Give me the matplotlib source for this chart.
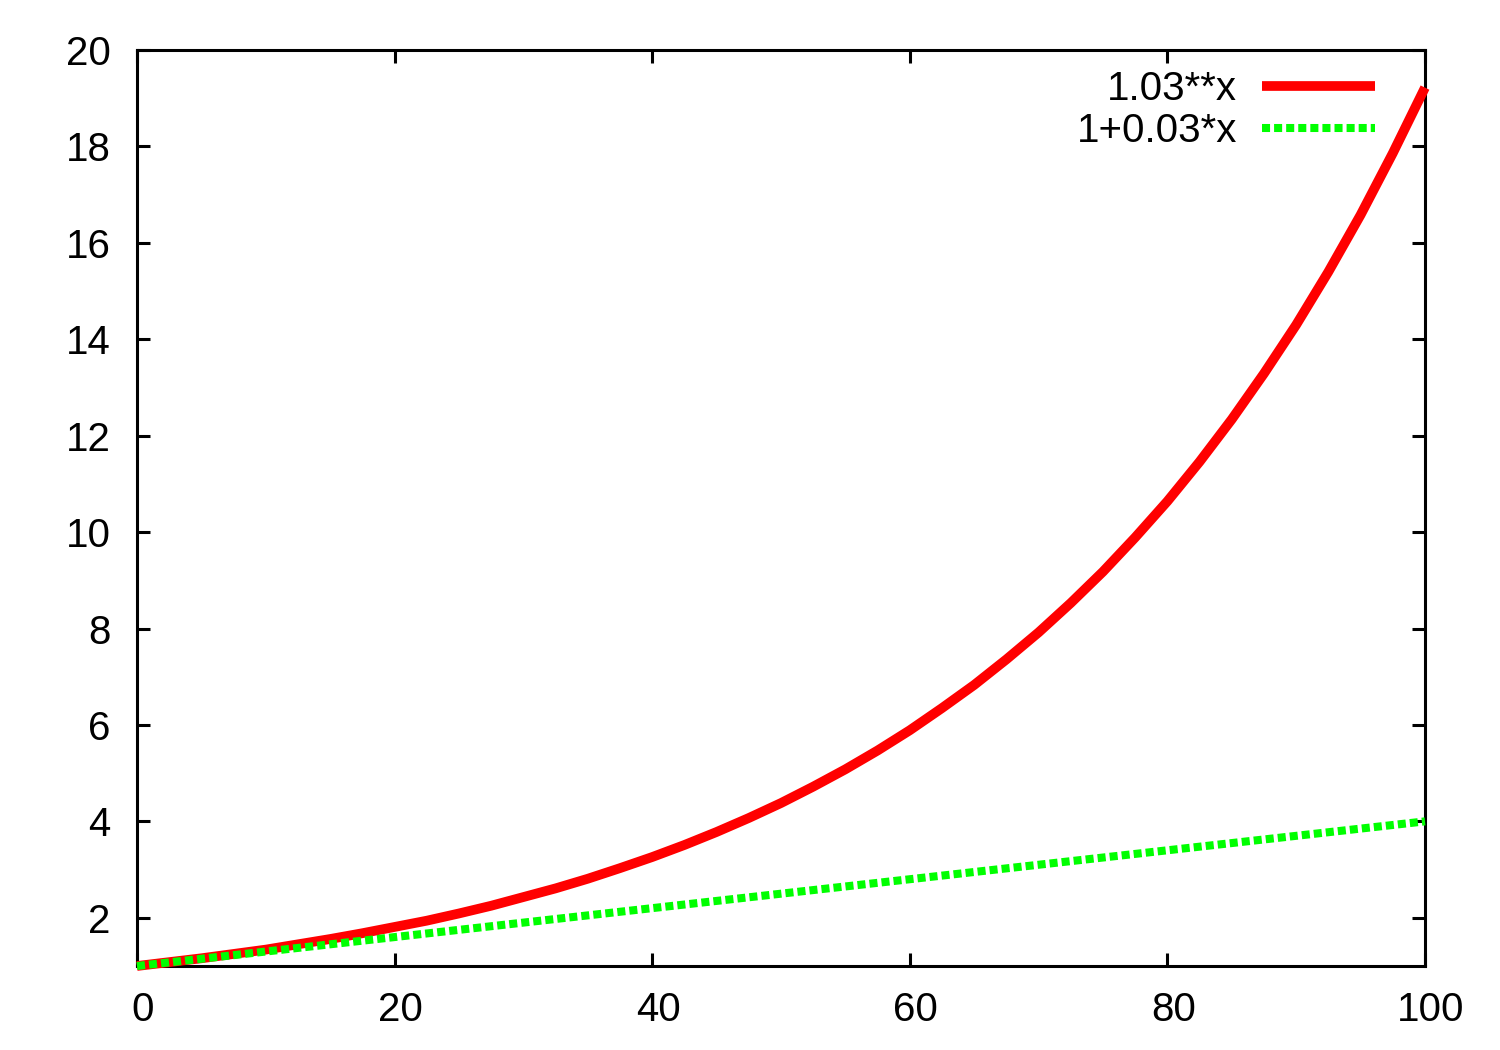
import matplotlib
matplotlib.use("Agg")
import matplotlib.pyplot as plt
import matplotlib.transforms as mtransforms

plt.rcParams['font.family'] = ['Liberation Sans', 'DejaVu Sans']

# Values
x_vals = [0, 2.5, 5, 7.5, 10, 12.5, 15, 17.5, 20, 22.5, 25, 27.5, 30, 32.5, 35, 37.5,
          40, 42.5, 45, 47.5, 50, 52.5, 55, 57.5, 60, 62.5, 65, 67.5, 70, 72.5, 75,
          77.5, 80, 82.5, 85, 87.5, 90, 92.5, 95, 97.5, 100]
exp_vals = [1.00, 1.08, 1.16, 1.25, 1.34, 1.45, 1.56, 1.68, 1.81, 1.94, 2.09, 2.25,
            2.43, 2.61, 2.81, 3.03, 3.26, 3.51, 3.78, 4.07, 4.38, 4.72, 5.08, 5.47,
            5.89, 6.35, 6.83, 7.36, 7.92, 8.53, 9.18, 9.89, 10.64, 11.46, 12.34,
            13.29, 14.30, 15.40, 16.58, 17.86, 19.22]
lin_x = [0, 20, 40, 60, 80, 100]
lin_vals = [1.00, 1.60, 2.20, 2.80, 3.40, 4.00]
labels = ["1.03**x", "1+0.03*x"]
x_ticks = [0, 20, 40, 60, 80, 100]
y_ticks = [2, 4, 6, 8, 10, 12, 14, 16, 18, 20]

fig = plt.figure(figsize=(15, 10.5), dpi=100)
ax = fig.add_axes([137/1500, 1 - 966/1050, (1425-137)/1500, (966-50)/1050])

ax.plot(x_vals, exp_vals, color='#ff0000', lw=7, label=labels[0],
        solid_capstyle='butt', solid_joinstyle='round', clip_on=False, zorder=3)
ax.plot(lin_x, lin_vals, color='#00ff00', lw=5.8, label=labels[1],
        dashes=(1.0, 0.5), dash_capstyle='butt', clip_on=False, zorder=3)

ax.set_xlim(0, 100)
ax.set_ylim(1, 20)
ax.set_xticks(x_ticks)
ax.set_yticks(y_ticks)
ax.tick_params(direction='in', length=9.5, width=2.2, top=True, right=True,
               labelsize=29, colors='black')
ax.tick_params(axis='y', pad=19)
ax.tick_params(axis='x', pad=18)
for s in ax.spines.values():
    s.set_linewidth(2.2)

# gnuplot places x tick labels slightly right of the tick
offset = mtransforms.ScaledTranslation(6/100, 0, fig.dpi_scale_trans)
for lab in ax.get_xticklabels():
    lab.set_transform(lab.get_transform() + offset)

leg = ax.legend(loc='upper right', frameon=False, markerfirst=False,
                fontsize=29, handlelength=2.8, handletextpad=0.62,
                labelspacing=0.09, borderpad=0, borderaxespad=0,
                bbox_to_anchor=(1375/1500, 1 - 70/1050),
                bbox_transform=fig.transFigure)
for t in leg.get_texts():
    t.set_ha('right')

fig.savefig("out.png", dpi=100)
